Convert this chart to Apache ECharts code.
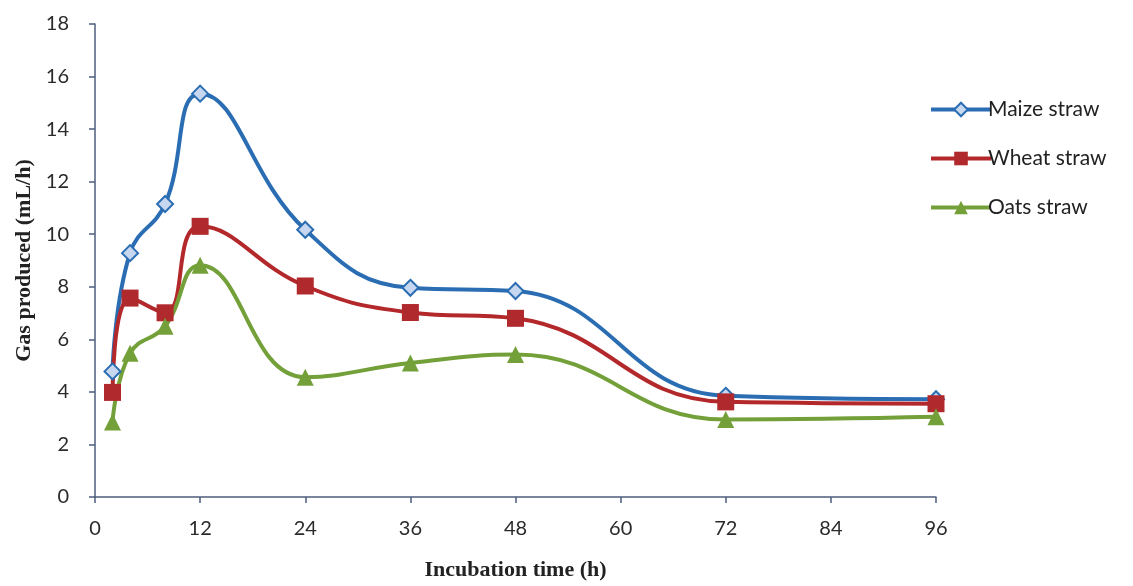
<!DOCTYPE html>
<html><head><meta charset="utf-8">
<script src="https://cdn.jsdelivr.net/npm/echarts@6/dist/echarts.min.js"></script>
<style>html,body{margin:0;padding:0;background:#fff}#c{width:1133px;height:586px}</style>
</head><body><div id="c"></div>
<script>
const hours = [2, 4, 8, 12, 24, 36, 48, 72, 96];
const maize = [4.78, 9.28, 11.15, 15.35, 10.17, 7.96, 7.84, 3.85, 3.72];
const wheat = [3.98, 7.57, 7.01, 10.3, 8.03, 7.02, 6.8, 3.62, 3.55];
const oats = [2.85, 5.47, 6.5, 8.82, 4.56, 5.1, 5.42, 2.95, 3.05];
const xTicks = [0, 12, 24, 36, 48, 60, 72, 84, 96];
const seriesNames = ['Maize straw', 'Wheat straw', 'Oats straw'];

const chart = echarts.init(document.getElementById('c'));
const axisCol = '#4e5d7e';
const labelStyle = {color: '#2a2a2a', fontSize: 20, fontFamily: 'Lato'};
function mk(name, vals, color, symbol, fill, size) {
  return {
    name, type: 'line', smooth: 0.45,
    data: hours.map((h, i) => [h, vals[i]]),
    symbol, symbolSize: size,
    lineStyle: {color, width: 4},
    itemStyle: {color: fill, borderColor: color, borderWidth: symbol === 'diamond' ? 2 : 0},
    emphasis: {disabled: true}
  };
}
chart.setOption({
  animation: false,
  backgroundColor: '#fff',
  grid: {left: 95, right: 197, top: 24, bottom: 89},
  legend: {
    orient: 'vertical', left: 924, top: 94, itemGap: 28,
    itemWidth: 60, itemHeight: 17,
    lineStyle: {width: 4},
    textStyle: {fontSize: 21, color: '#222', fontFamily: 'Lato', padding: [0,0,0,-8]},
    data: seriesNames
  },
  xAxis: {
    type: 'value', min: 0, max: 96, interval: 12,
    name: 'Incubation time (h)', nameLocation: 'middle', nameGap: 62,
    nameTextStyle: {fontFamily: 'Liberation Serif', fontWeight: 'bold', fontSize: 22, color: '#222'},
    axisLine: {show: true, lineStyle: {color: axisCol, width: 1.5}},
    axisTick: {show: true, length: 6, lineStyle: {color: axisCol, width: 1.5}},
    axisLabel: Object.assign({margin: 22, formatter: v => xTicks.includes(v) ? String(v) : ''}, labelStyle),
    splitLine: {show: false}
  },
  yAxis: {
    type: 'value', min: 0, max: 18, interval: 2,
    name: 'Gas produced (mL/h)', nameLocation: 'middle', nameGap: 60, nameRotate: 90,
    nameTextStyle: {fontFamily: 'Liberation Serif', fontWeight: 'bold', fontSize: 22, color: '#222'},
    axisLine: {show: true, lineStyle: {color: axisCol, width: 1.5}},
    axisTick: {show: true, length: 6, lineStyle: {color: axisCol, width: 1.5}},
    axisLabel: Object.assign({margin: 26}, labelStyle),
    splitLine: {show: false}
  },
  series: [
    mk(seriesNames[0], maize, '#2a6db3', 'diamond', '#c7d7ef', 16),
    mk(seriesNames[1], wheat, '#b3282b', 'rect', '#b0292c', 17),
    mk(seriesNames[2], oats, '#74a03a', 'triangle', '#74a03a', 17)
  ]
});
</script></body></html>
